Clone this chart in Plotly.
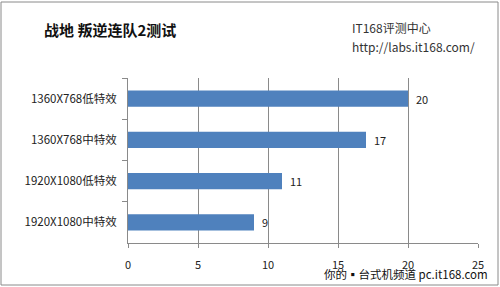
import plotly.graph_objects as go

categories = ["1360X768低特效", "1360X768中特效", "1920X1080低特效", "1920X1080中特效"]
values = [20, 17, 11, 9]
x_ticks = [0, 5, 10, 15, 20, 25]

font = "Noto Sans CJK SC, Noto Sans, sans-serif"

fig = go.Figure(go.Bar(
    y=categories, x=values, orientation="h",
    marker=dict(color="#4F81BD", line=dict(width=0)),
    text=["  " + str(v) for v in values], textposition="outside",
    textfont=dict(size=11, color="#222", family=font),
    cliponaxis=False, width=0.39,
))

fig.update_layout(
    width=500, height=287,
    margin=dict(l=128, r=22, t=78, b=44),
    paper_bgcolor="white", plot_bgcolor="white",
    showlegend=False,
    font=dict(family=font, size=11, color="#222"),
)
fig.update_xaxes(
    range=[0, 25], tickvals=x_ticks, showgrid=True, gridcolor="#8a8a8a", gridwidth=1,
    showline=True, linecolor="#8a8a8a", ticks="outside", ticklen=4, tickcolor="#8a8a8a",
    tickfont=dict(size=11, color="#222"), zeroline=False, fixedrange=True,
    ticklabelstandoff=8,
)
fig.update_yaxes(
    categoryorder="array", categoryarray=categories, autorange="reversed",
    showline=True, linecolor="#8a8a8a", ticks="outside", tickson="boundaries",
    ticklen=5, tickcolor="#8a8a8a", showgrid=False,
    tickfont=dict(size=11.5, color="#222"), ticklabelstandoff=8,
)

fig.add_annotation(text="<b>战地 叛逆连队2测试</b>", xref="paper", yref="paper",
                   x=(42 - 128) / 350, y=1 + (78 - 30) / 165, xanchor="left", yanchor="middle",
                   showarrow=False, font=dict(size=15, color="#111", family=font))
fig.add_annotation(text="IT168评测中心", xref="paper", yref="paper",
                   x=(350 - 128) / 350, y=1 + (78 - 27) / 165, xanchor="left", yanchor="middle",
                   showarrow=False, font=dict(size=12, color="#333", family=font))
fig.add_annotation(text="http://labs.it168.com/", xref="paper", yref="paper",
                   x=(350 - 128) / 350, y=1 + (78 - 47) / 165, xanchor="left", yanchor="middle",
                   showarrow=False, font=dict(size=12, color="#333", family=font))
fig.add_annotation(text="你的▪台式机频道 pc.it168.com", xref="paper", yref="paper",
                   x=(490 - 128) / 350, y=-(274 - 243) / 165, xanchor="right", yanchor="middle",
                   showarrow=False, font=dict(size=11.5, color="#111", family=font))

fig.add_shape(type="rect", xref="paper", yref="paper",
              x0=(1 - 128) / 350, x1=(498 - 128) / 350,
              y0=-(285 - 243) / 165, y1=1 + (78 - 2) / 165,
              line=dict(color="#8a8a8a", width=1), fillcolor="rgba(0,0,0,0)", layer="below")

fig.write_html("out.html")
